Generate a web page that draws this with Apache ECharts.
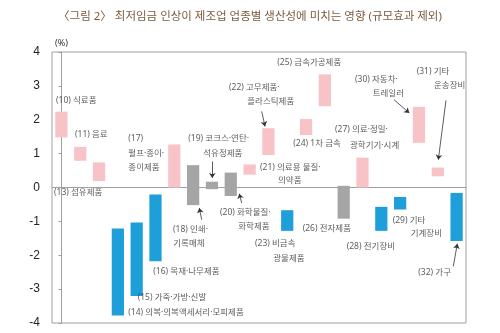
<!DOCTYPE html>
<html>
<head>
<meta charset="utf-8">
<script src="https://cdn.jsdelivr.net/npm/echarts@6/dist/echarts.min.js"></script>
<style>
  html, body { margin: 0; padding: 0; background: #fff; }
  #chart { width: 500px; height: 333px; }
</style>
</head>
<body>
<div id="chart"></div>
<script>
// 업종 코드와 이름
var codes = ['10', '11', '13', '14', '15', '16', '17', '18', '19', '20', '21',
  '22', '23', '24', '25', '26', '27', '28', '29', '30', '31', '32'];
var names = ['식료품', '음료', '섬유제품', '의복·의복액세서리·모피제품', '가죽·가방·신발',
  '목재·나무제품', '펄프·종이·종이제품', '인쇄·기록매체', '코크스·연탄·석유정제품',
  '화학물질·화학제품', '의료용 물질·의약품', '고무제품·플라스틱제품', '비금속 광물제품',
  '1차 금속', '금속가공제품', '전자제품', '의료·정밀·광학기기·시계', '전기장비',
  '기타 기계장비', '자동차·트레일러', '기타 운송장비', '가구'];

// 생산성 영향 범위 (%): 하한, 상한
var lows = [1.48, 0.79, 0.19, -3.78, -3.20, -2.18, 0.00, -0.52, -0.05, -0.25, 0.38,
  0.96, -1.28, 1.55, 2.40, -0.92, 0.00, -1.28, -0.65, 1.32, 0.33, -1.58];
var highs = [2.24, 1.20, 0.74, -1.21, -1.03, -0.21, 1.27, 0.66, 0.17, 0.44, 0.68,
  1.75, -0.67, 2.02, 3.34, 0.05, 0.88, -0.57, -0.28, 2.38, 0.59, -0.16];

var yTicks = [-4, -3, -2, -1, 0, 1, 2, 3, 4];

// 주석 문구 배치 (보조 x축 좌표, y값, 문구)
var notes = [
  [-0.287, 2.571, '(10) 식료품'],
  [0.722, 1.550, '(11) 음료'],
  [-0.394, -0.162, '(13) 섬유제품'],
  [3.555, 1.441, '(17)'],
  [3.555, 0.998, '펄프·종이·'],
  [3.555, 0.593, '종이제품'],
  [3.555, -3.687, '(14) 의복·의복액세서리·모피제품'],
  [4.054, -3.244, '(15) 가죽·가방·신발'],
  [4.883, -2.477, '(16) 목재·나무제품'],
  [5.930, -1.246, '(18) 인쇄·'],
  [5.946, -1.659, '기록매체'],
  [6.743, 1.441, '(19) 코크스·연탄·'],
  [7.540, 0.998, '석유정제품'],
  [8.428, -0.735, '(20) 화학물질·'],
  [9.400, -1.148, '화학제품'],
  [10.553, 0.576, '(21) 의료용 물질·'],
  [11.510, 0.201, '의약품'],
  [8.906, 2.937, '(22) 고무제품·'],
  [9.878, 2.542, '플라스틱제품'],
  [10.287, -1.659, '(23) 비금속'],
  [11.260, -2.111, '광물제품'],
  [12.323, 1.293, '(24) 1차 금속'],
  [11.472, 3.675, '(25) 금속가공제품'],
  [12.822, -1.207, '(26) 전자제품'],
  [14.539, 1.706, '(27) 의료·정밀·'],
  [15.336, 1.234, '광학기기·시계'],
  [15.161, -1.756, '(28) 전기장비'],
  [17.605, -0.971, '(29) 기타'],
  [18.561, -1.364, '기계장비'],
  [15.601, 3.182, '(30) 자동차·'],
  [16.542, 2.769, '트레일러'],
  [18.880, 3.410, '(31) 기타'],
  [19.800, 3.005, '운송장비'],
  [18.966, -2.524, '(32) 가구']
];

// 화살표 (시작점 -> 끝점)
var arrows = [
  [[7.455, -0.951], [7.328, -0.605]],
  [[8.018, 0.770], [8.018, 0.280]],
  [[9.581, -0.458], [9.453, -0.183]],
  [[10.644, 2.246], [10.819, 1.804]],
  [[17.674, 2.592], [18.487, 2.199]],
  [[20.437, 2.571], [20.028, 0.821]],
  [[20.825, -2.329], [21.038, -1.659]]
];

var PINK = '#f7c3c7', GRAY = '#a5a5a5', BLUE = '#1f9fda';
// 라틴 문자와 가운뎃점은 좁은 글꼴로, 한글은 CJK 글꼴로
var FONT = '"Noto Sans", "Noto Sans CJK KR", sans-serif';

var rangeData = codes.map(function (c, i) { return [i, lows[i], highs[i]]; });

function barColor(lo, hi) {
  if (lo >= 0) return PINK;
  if (hi <= 0) return BLUE;
  return GRAY;
}

var chart = echarts.init(document.getElementById('chart'), null, { renderer: 'canvas' });

chart.setOption({
  animation: false,
  backgroundColor: '#fff',
  title: {
    text: '〈그림 2〉 최저임금 인상이 제조업 업종별 생산성에 미치는 영향 (규모효과 제외)',
    left: 'center',
    top: 6,
    textStyle: { fontFamily: FONT, fontSize: 11.5, fontWeight: 'normal', color: '#7a5a3c' }
  },
  grid: {
    left: 52, right: 34, top: 52, bottom: 10,
    show: true, borderColor: '#a0a0a0', borderWidth: 1
  },
  xAxis: [{
    type: 'category',
    data: codes.map(function (c, i) { return '(' + c + ') ' + names[i]; }),
    axisLine: { onZero: true, lineStyle: { color: '#a0a0a0', width: 1 } },
    axisTick: { show: false },
    axisLabel: { show: false },
    splitLine: { show: false }
  }, {
    type: 'value',
    min: -0.5,
    max: codes.length - 0.5,
    show: false
  }],
  yAxis: {
    type: 'value',
    min: yTicks[0],
    max: yTicks[yTicks.length - 1],
    interval: 1,
    name: '(%)',
    nameLocation: 'end',
    nameGap: 4,
    nameTextStyle: { fontFamily: FONT, fontSize: 9, color: '#333', align: 'center' },
    axisLine: { show: true, lineStyle: { color: '#a0a0a0', width: 1 } },
    axisTick: { show: true, length: 3, lineStyle: { color: '#a0a0a0' } },
    axisLabel: { margin: 12, fontFamily: '"Liberation Sans", sans-serif', fontSize: 12, color: '#222' },
    splitLine: { show: false }
  },
  series: [{
    type: 'custom',
    xAxisIndex: 0,
    data: rangeData,
    encode: { x: 0, y: [1, 2] },
    renderItem: function (params, api) {
      var i = api.value(0);
      var lo = api.value(1), hi = api.value(2);
      var p1 = api.coord([i, lo]);
      var p2 = api.coord([i, hi]);
      var w = api.size([1, 0])[0] * 0.65;
      return {
        type: 'rect',
        shape: { x: p1[0] - w / 2, y: p2[1], width: w, height: p1[1] - p2[1] },
        style: { fill: barColor(lo, hi) }
      };
    }
  }, {
    type: 'scatter',
    xAxisIndex: 1,
    symbolSize: 0,
    silent: true,
    data: notes.map(function (n) { return { value: [n[0], n[1]], name: n[2] }; }),
    label: {
      show: true,
      position: 'right',
      distance: 0,
      formatter: '{b}',
      fontFamily: FONT,
      fontSize: 8.5,
      color: '#333'
    },
    markLine: {
      silent: true,
      symbol: ['none', 'arrow'],
      symbolSize: 5,
      label: { show: false },
      lineStyle: { color: '#333', width: 0.8, type: 'solid' },
      data: arrows.map(function (a) {
        return [{ coord: a[0] }, { coord: a[1] }];
      })
    }
  }]
});
</script>
</body>
</html>
